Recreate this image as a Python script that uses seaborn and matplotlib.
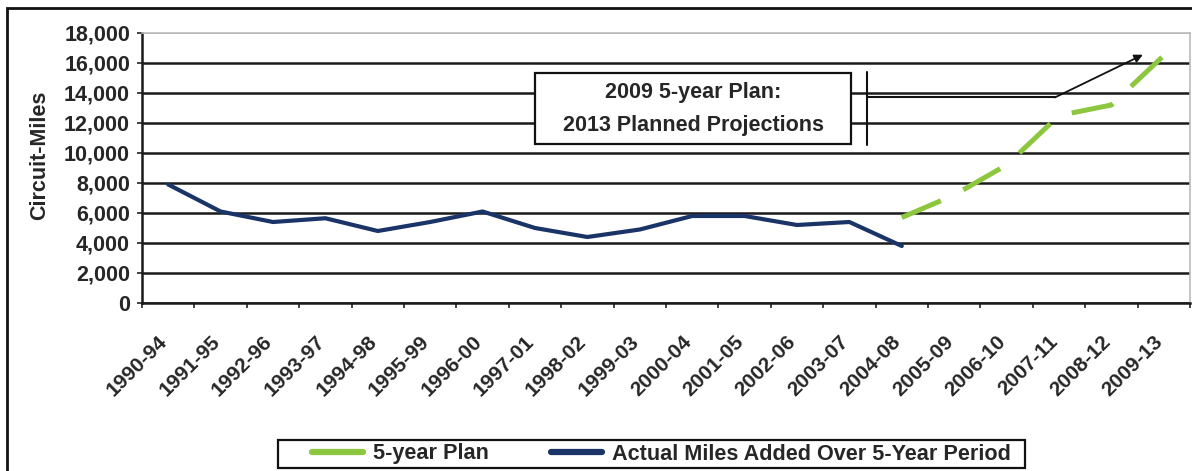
import matplotlib
matplotlib.use("Agg")
import matplotlib.pyplot as plt
from matplotlib.lines import Line2D
from matplotlib.patches import Rectangle
from matplotlib.ticker import FuncFormatter
import seaborn as sns
import pandas as pd

# ---------------- data ----------------
periods = ["1990-94", "1991-95", "1992-96", "1993-97", "1994-98", "1995-99",
           "1996-00", "1997-01", "1998-02", "1999-03", "2000-04", "2001-05",
           "2002-06", "2003-07", "2004-08", "2005-09", "2006-10", "2007-11",
           "2008-12", "2009-13"]
actual_periods = periods[:15]
actual_miles = [7900, 6100, 5400, 5650, 4800, 5400, 6100, 5000, 4400, 4900,
                5800, 5800, 5200, 5400, 3800]
plan_periods = periods[14:]
plan_miles = [5700, 7200, 9200, 12500, 13200, 16500]
y_ticks = [0, 2000, 4000, 6000, 8000, 10000, 12000, 14000, 16000, 18000]

series_actual = "Actual Miles Added Over 5-Year Period"
series_plan = "5-year Plan"
note_lines = ["2009 5-year Plan:", "2013 Planned Projections"]

# ---------------- style ----------------
sns.set_theme(style="white")
plt.rcParams["font.family"] = ["Liberation Sans", "DejaVu Sans"]
plt.rcParams["font.weight"] = "bold"

W, H = 1192, 471
fig = plt.figure(figsize=(W / 100, H / 100), dpi=100)
fig.patch.set_facecolor("white")
ax = fig.add_axes([142 / W, (H - 303) / H, 1048 / W, 270 / H])

navy = "#1B3468"
green = "#8DC63F"

df_actual = pd.DataFrame({"pos": [periods.index(p) for p in actual_periods],
                          "miles": actual_miles})
df_plan = pd.DataFrame({"pos": [periods.index(p) for p in plan_periods],
                        "miles": plan_miles})

sns.lineplot(data=df_actual, x="pos", y="miles", ax=ax, color=navy,
             linewidth=3.0, legend=False, zorder=4)
sns.lineplot(data=df_plan, x="pos", y="miles", ax=ax, color=green,
             linewidth=3.6, linestyle=(0, (8.5, 5.0)), legend=False, zorder=4)

# ---------------- axes ----------------
ax.set_xlim(-0.5, len(periods) - 0.5)
ax.set_ylim(y_ticks[0], y_ticks[-1])
ax.set_yticks(y_ticks)
ax.yaxis.set_major_formatter(FuncFormatter(lambda v, p: f"{int(v):,}"))
ax.tick_params(axis="y", which="major", left=True, length=3.6, width=1.2,
               color="#222222", labelsize=15.5, pad=5)
for lab in ax.get_yticklabels():
    lab.set_fontweight("bold")

ax.set_xticks(range(len(periods)))
ax.set_xticklabels(periods, rotation=45, ha="right", va="baseline",
                   rotation_mode="anchor", fontsize=15, fontweight="bold")
ax.set_xticks([i - 0.5 for i in range(len(periods) + 1)], minor=True)
ax.tick_params(axis="x", which="major", length=0, pad=28.5)
ax.tick_params(axis="x", which="minor", bottom=True, length=3.6, width=1.2,
               color="#222222")

ax.set_xlabel("")
ax.set_ylabel("Circuit-Miles", fontsize=15.5, fontweight="bold")
ax.yaxis.set_label_coords(-0.088, 0.548)

ax.yaxis.grid(True, color="#1a1a1a", linewidth=1.8, zorder=1)
ax.xaxis.grid(False)
ax.set_axisbelow(True)
gl = ax.get_ygridlines()
gl[-1].set_color("#aaaaaa")
gl[-1].set_linewidth(1.2)

for side in ("left", "bottom"):
    ax.spines[side].set_color("#1a1a1a")
    ax.spines[side].set_linewidth(1.8)
for side in ("top", "right"):
    ax.spines[side].set_color("#bbbbbb")
    ax.spines[side].set_linewidth(1.2)

# ---------------- annotation box ----------------
box = Rectangle((0.375, 0.589), 0.3015, 0.264, transform=ax.transAxes,
                facecolor="white", edgecolor="#111111", linewidth=1.6, zorder=5)
ax.add_patch(box)
ax.text(0.526, 0.778, note_lines[0], transform=ax.transAxes, ha="center",
        va="center", fontsize=15.5, fontweight="bold", zorder=6)
ax.text(0.526, 0.659, note_lines[1], transform=ax.transAxes, ha="center",
        va="center", fontsize=15.5, fontweight="bold", zorder=6)

# bracket + pointer to plan end
ax.plot([13.34, 13.34], [10550, 15400], color="#111111", lw=1.5, zorder=5)
ax.plot([13.34, 16.92], [13700, 13700], color="#111111", lw=1.5, zorder=5)
ax.annotate("", xy=(18.6, 16550), xytext=(16.92, 13700),
            arrowprops=dict(arrowstyle="-|>", color="#111111", lw=1.3,
                            mutation_scale=12, shrinkA=0, shrinkB=0),
            zorder=5)

# ---------------- legend ----------------
handles = [Line2D([], [], color=green, lw=4.5),
           Line2D([], [], color=navy, lw=4.5)]
leg = fig.legend(handles, [series_plan, series_actual], ncol=2,
                 loc="center", bbox_to_anchor=(661.5 / W, (H - 454) / H),
                 frameon=False, prop={"size": 15.6, "weight": "bold"},
                 handlelength=2.35, columnspacing=2.9, borderpad=0.0,
                 handletextpad=0.46)
fig.patches.append(Rectangle((278 / W, (H - 468) / H), (1025 - 278) / W,
                             28 / H, transform=fig.transFigure, fill=False,
                             edgecolor="#111111", linewidth=1.6))

# ---------------- outer frame ----------------
fig.patches.append(Rectangle((7 / W, -0.05), 1.2, (H - 8) / H + 0.05,
                             transform=fig.transFigure, fill=False,
                             edgecolor="#111111", linewidth=2.0))

fig.savefig("out.png", dpi=100)
